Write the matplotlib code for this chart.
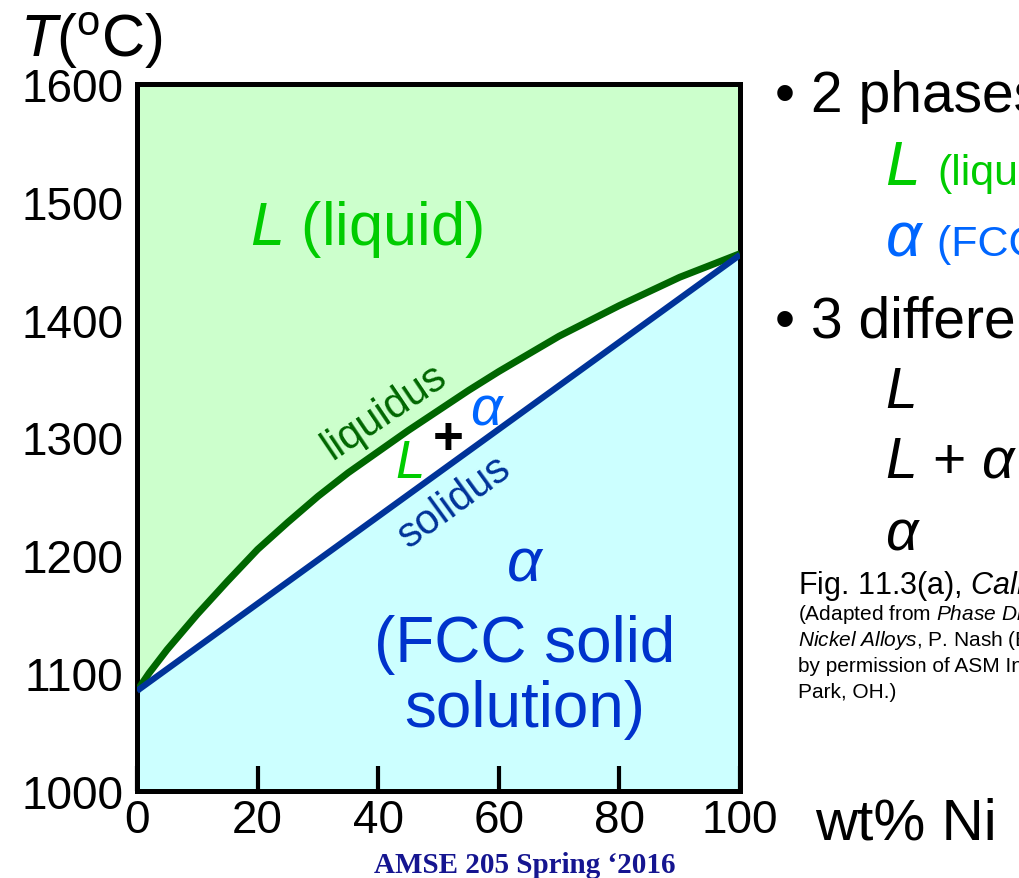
import numpy as np
import matplotlib
matplotlib.use("Agg")
import matplotlib.pyplot as plt

plt.rcParams['font.family'] = ['Liberation Sans', 'DejaVu Sans']
plt.rcParams['mathtext.fontset'] = 'custom'
plt.rcParams['mathtext.rm'] = 'Liberation Sans'
plt.rcParams['mathtext.it'] = 'Liberation Sans:italic'

# Cu-Ni phase diagram
wt_ni = [0, 2, 5, 10, 15, 20, 25, 30, 35, 40, 45, 50,
         55, 60, 65, 70, 75, 80, 85, 90, 95, 100]
liquidus = [1085, 1100, 1120, 1150, 1178, 1205, 1228, 1250, 1270, 1288, 1306, 1323,
            1340, 1356, 1371, 1386, 1399, 1412, 1424, 1436, 1446, 1456]
solidus_x = [0, 100]
solidus = [1085, 1455]
x_ticks = [0, 20, 40, 60, 80, 100]
y_ticks = [1000, 1100, 1200, 1300, 1400, 1500, 1600]

W, H = 1019, 879
fig = plt.figure(figsize=(W / 100, H / 100), dpi=100)
ax = fig.add_axes([137 / W, 1 - 792 / H, 603 / W, 707 / H])
ax.set_xlim(0, 100)
ax.set_ylim(1000, 1600)

ax.fill_between(wt_ni, liquidus, 1600, color='#ccffcc', lw=0)
ax.fill_between(solidus_x, 1000, solidus, color='#ccffff', lw=0)
ax.plot(wt_ni, liquidus, color='#006600', lw=5, solid_capstyle='butt',
        solid_joinstyle='round', zorder=3)
ax.plot(solidus_x, solidus, color='#003399', lw=4.5, solid_capstyle='butt', zorder=3)

for s in ax.spines.values():
    s.set_linewidth(3.6)
ax.set_xticks(x_ticks)
ax.set_yticks(y_ticks)
ax.tick_params(axis='x', direction='in', length=18, width=3, labelsize=33, pad=5)
ax.tick_params(axis='y', direction='in', length=0, labelsize=33, pad=10)
ax.set_yticks([1100], minor=True)
ax.tick_params(axis='y', which='minor', direction='in', length=16, width=3)

# labels inside the diagram
ax.text(18.7, 1464, r'$\mathit{L}$ (liquid)', color='#00cc00', fontsize=44,
        ha='left', va='baseline')
ax.text(41.1, 1322, 'liquidus', color='#006600', fontsize=30, rotation=34,
        ha='center', va='center', rotation_mode='anchor')
ax.text(52.6, 1246, 'solidus', color='#003399', fontsize=30, rotation=36,
        ha='center', va='center', rotation_mode='anchor')
ax.text(45.1, 1278, r'$\mathit{L}$', color='#00cc00', fontsize=38,
        ha='center', va='center')
ax.text(51.6, 1299, '+', color='black', fontsize=38, fontweight='bold',
        ha='center', va='center')
ax.text(58.2, 1324, r'$\mathit{\alpha}$', color='#0066ff', fontsize=40,
        ha='center', va='center')
ax.text(64.3, 1193, r'$\mathit{\alpha}$', color='#0033cc', fontsize=44,
        ha='center', va='center')
ax.text(64.3, 1125, '(FCC solid', color='#0033cc', fontsize=46,
        ha='center', va='center')
ax.text(64.3, 1070, 'solution)', color='#0033cc', fontsize=46,
        ha='center', va='center')


def px(x, y):
    return x / W, 1 - y / H


fig.text(*px(20, 57), r'$\mathit{T}$(${}^{\mathrm{o}}$C)', fontsize=43,
         va='baseline')
fig.text(*px(815, 840), 'wt% Ni', fontsize=42, va='baseline')
fig.text(*px(525, 873), 'AMSE 205 Spring \u20182016', fontsize=21,
         family='Liberation Serif', fontweight='bold', color='#151590',
         ha='center', va='baseline')

# side notes
fig.text(*px(775, 112), '\u2022 2 phases:', fontsize=41, va='baseline')
fig.text(*px(885, 185), r'$\mathit{L}$', fontsize=45, color='#00cc00', va='baseline')
fig.text(*px(937, 185), '(liquid)', fontsize=31, color='#00cc00', va='baseline')
fig.text(*px(885, 256), r'$\mathit{\alpha}$', fontsize=45, color='#0066ff', va='baseline')
fig.text(*px(937, 256), '(FCC solid solution)', fontsize=31, color='#0066ff',
         va='baseline')
fig.text(*px(775, 338), '\u2022 3 different phase fields:', fontsize=41, va='baseline')
fig.text(*px(885, 408), r'$\mathit{L}$', fontsize=41, va='baseline')
fig.text(*px(885, 478), r'$\mathit{L}$ + $\mathit{\alpha}$', fontsize=41, va='baseline')
fig.text(*px(885, 550), r'$\mathit{\alpha}$', fontsize=41, va='baseline')

fig.text(*px(798, 594), r'Fig. 11.3(a), $\mathit{Callister}$ & $\mathit{Rethwisch}$ 8e.',
         fontsize=22, va='baseline')
caption = [
    r'(Adapted from $\mathit{Phase\ Diagrams\ of\ Binary}$',
    r'$\mathit{Nickel\ Alloys}$, P. Nash (Ed.), ASM International,',
    r'by permission of ASM International, Materials',
    r'Park, OH.)',
]
for i, line in enumerate(caption):
    fig.text(*px(798, 620 + 26 * i), line, fontsize=15, va='baseline')

fig.savefig('out.png', dpi=100)
